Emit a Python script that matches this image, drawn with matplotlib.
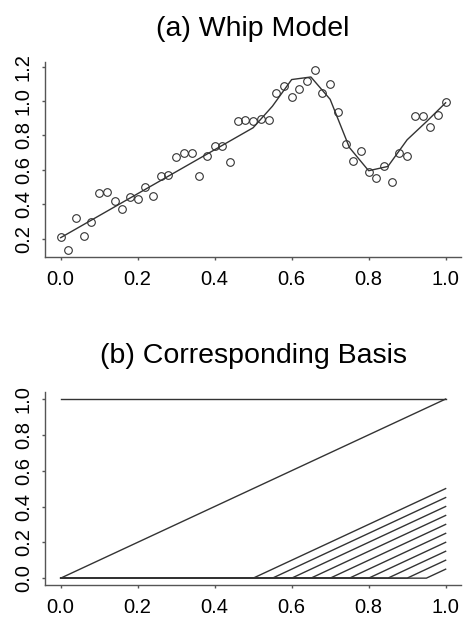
import numpy as np
import matplotlib
matplotlib.use("Agg")
import matplotlib.pyplot as plt

plt.rcParams['font.family'] = ['Liberation Sans', 'DejaVu Sans']

x_obs = [0.00, 0.02, 0.04, 0.06, 0.08, 0.10, 0.12, 0.14, 0.16, 0.18,
         0.20, 0.22, 0.24, 0.26, 0.28, 0.30, 0.32, 0.34, 0.36, 0.38,
         0.40, 0.42, 0.44, 0.46, 0.48, 0.50, 0.52, 0.54, 0.56, 0.58,
         0.60, 0.62, 0.64, 0.66, 0.68, 0.70, 0.72, 0.74, 0.76, 0.78,
         0.80, 0.82, 0.84, 0.86, 0.88, 0.90, 0.92, 0.94, 0.96, 0.98, 1.00]
y_obs = [0.212, 0.134, 0.318, 0.217, 0.295, 0.464, 0.472, 0.417, 0.371, 0.443,
         0.429, 0.503, 0.449, 0.563, 0.571, 0.672, 0.697, 0.701, 0.567, 0.678,
         0.740, 0.740, 0.645, 0.886, 0.891, 0.885, 0.893, 0.889, 1.045, 1.089,
         1.021, 1.070, 1.118, 1.183, 1.047, 1.101, 0.934, 0.748, 0.654, 0.709,
         0.586, 0.555, 0.625, 0.528, 0.699, 0.682, 0.915, 0.913, 0.852, 0.919, 0.994]

# fitted curve at the knots
fit_x = [0.0, 0.50, 0.55, 0.60, 0.65, 0.70, 0.75, 0.80, 0.85, 0.90, 0.95, 1.00]
fit_y = [0.206, 0.845, 0.970, 1.125, 1.140, 1.010, 0.730, 0.595, 0.620, 0.775, 0.880, 0.990]

# (b) truncated linear basis knots
knots = [0.50, 0.55, 0.60, 0.65, 0.70, 0.75, 0.80, 0.85, 0.90, 0.95]

ticks01 = [0.0, 0.2, 0.4, 0.6, 0.8, 1.0]
ticks_a = [0.2, 0.4, 0.6, 0.8, 1.0, 1.2]

line_col = '#333333'
axis_col = '#555555'


def r_style(ax):
    ax.spines['top'].set_visible(False)
    ax.spines['right'].set_visible(False)
    for s in ('left', 'bottom'):
        ax.spines[s].set_color(axis_col)
        ax.spines[s].set_linewidth(1.0)
    ax.tick_params(direction='out', length=2.5, width=1.0, color=axis_col,
                   labelsize=14.5, pad=6.5)
    ax.set_xticks(ticks01)
    ax.set_xticklabels(['%.1f' % t for t in ticks01])
    for lab in ax.get_yticklabels():
        lab.set_rotation(90)
        lab.set_verticalalignment('center')


fig = plt.figure(figsize=(4.64, 6.18), dpi=100)

ax1 = fig.add_axes([0.0976, 0.5837, 0.896, 0.3154])
ax1.plot(x_obs, y_obs, 'o', ms=5.5, mfc='none', mec=line_col, mew=0.8)
ax1.plot(fit_x, fit_y, '-', color=line_col, lw=1.0)
ax1.set_xlim(-0.04, 1.04)
ax1.set_ylim(0.092, 1.225)
ax1.set_yticks(ticks_a)
ax1.set_yticklabels(['%.1f' % t for t in ticks_a])
r_style(ax1)
ax1.set_title('(a) Whip Model', fontsize=20.5, pad=19)

ax2 = fig.add_axes([0.0976, 0.0529, 0.896, 0.313])
ax2.plot([0, 1], [1, 1], '-', color=line_col, lw=1.0)
ax2.plot([0, 1], [0, 1], '-', color=line_col, lw=1.0)
for k in knots:
    ax2.plot([0, k, 1], [0, 0, 1 - k], '-', color=line_col, lw=1.0)
ax2.set_xlim(-0.04, 1.04)
ax2.set_ylim(-0.04, 1.04)
ax2.set_yticks(ticks01)
ax2.set_yticklabels(['%.1f' % t for t in ticks01])
r_style(ax2)
ax2.set_title('(b) Corresponding Basis', fontsize=20.5, pad=21)

fig.savefig('out.png', dpi=100)
